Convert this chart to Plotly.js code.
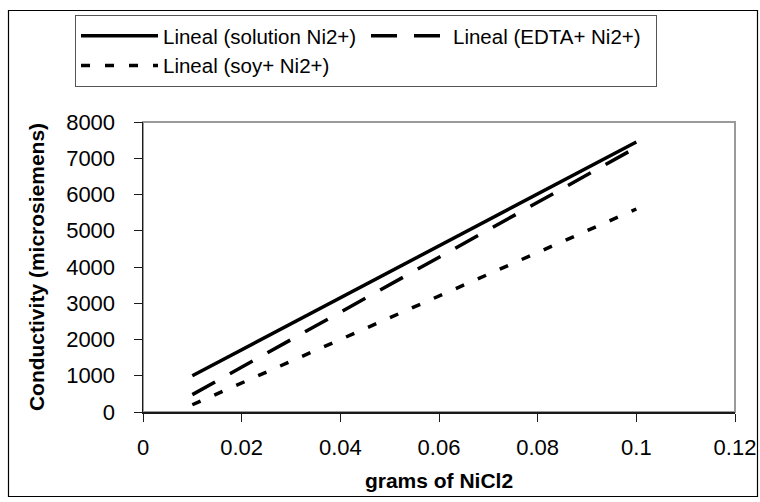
<!DOCTYPE html>
<html>
<head>
<meta charset="utf-8">
<script src="https://cdn.plot.ly/plotly-3.0.1.min.js"></script>
<style>
html, body { margin: 0; padding: 0; background: #fff; }
#chart { width: 760px; height: 502px; }
</style>
</head>
<body>
<div id="chart"></div>
<script>
// Data (linear trend lines)
const seriesNames = ['Lineal (solution Ni2+)', 'Lineal (EDTA+ Ni2+)', 'Lineal (soy+ Ni2+)'];
const xSolution = [0.01, 0.1];
const ySolution = [1000, 7450];
const xEdta = [0.01, 0.1];
const yEdta = [480, 7300];
const xSoy = [0.01, 0.1];
const ySoy = [200, 5600];
const xTickVals = [0, 0.02, 0.04, 0.06, 0.08, 0.1, 0.12];
const xTickText = ['0', '0.02', '0.04', '0.06', '0.08', '0.1', '0.12'];
const yTickVals = [0, 1000, 2000, 3000, 4000, 5000, 6000, 7000, 8000];
const yTickText = ['0', '1000', '2000', '3000', '4000', '5000', '6000', '7000', '8000'];

const FONT = 'Liberation Sans, Arial, Helvetica, sans-serif';

const traces = [
  { x: xSolution, y: ySolution, name: seriesNames[0], mode: 'lines',
    line: { color: '#000', width: 3.5, dash: 'solid' } },
  { x: xEdta, y: yEdta, name: seriesNames[1], mode: 'lines',
    line: { color: '#000', width: 3.5, dash: '26px,17px' } },
  { x: xSoy, y: ySoy, name: seriesNames[2], mode: 'lines',
    line: { color: '#000', width: 3.5, dash: '9px,15px' } }
];

const L = 143, R = 25, T = 122, B = 90;
const W = 760, H = 502;
const pw = W - L - R, ph = H - T - B;
const px = v => (v - L) / pw;          // pixel x -> paper
const py = v => (H - B - v) / ph;      // pixel y -> paper

const layout = {
  width: W, height: H,
  margin: { l: L, r: R, t: T, b: B, pad: 0 },
  paper_bgcolor: '#fff', plot_bgcolor: '#fff',
  font: { family: FONT, color: '#000', size: 22 },
  showlegend: true,
  legend: {
    orientation: 'h',
    x: px(657), y: py(15), xanchor: 'right', yanchor: 'top',
    bgcolor: '#fff', bordercolor: '#555', borderwidth: 1,
    font: { family: FONT, size: 20.5, color: '#000' },
    itemwidth: 77, entrywidth: 198, traceorder: 'normal'
  },
  xaxis: {
    range: [0, 0.12], tickmode: 'array', tickvals: xTickVals, ticktext: xTickText,
    showgrid: false, zeroline: false, showline: true, linecolor: '#1a1a1a', linewidth: 1.5,
    ticks: 'outside', ticklen: 8, tickwidth: 1, tickcolor: '#1a1a1a',
    tickfont: { family: FONT, size: 22, color: '#000' },
    ticklabelstandoff: 7,
    title: { text: '<b>grams of NiCl2</b>', font: { family: FONT, size: 21, color: '#000' }, standoff: 14 },
    automargin: false, fixedrange: true
  },
  yaxis: {
    range: [0, 8000], tickmode: 'array', tickvals: yTickVals, ticktext: yTickText,
    showgrid: false, zeroline: false, showline: true, linecolor: '#1a1a1a', linewidth: 1.5,
    ticks: 'outside', ticklen: 8, tickwidth: 1, tickcolor: '#1a1a1a',
    tickfont: { family: FONT, size: 22, color: '#000' },
    ticklabelstandoff: 14,
    title: { text: '<b>Conductivity (microsiemens)</b>', font: { family: FONT, size: 21, color: '#000' }, standoff: 16 },
    automargin: false, fixedrange: true
  },
  shapes: [
    { type: 'rect', xref: 'paper', yref: 'paper', x0: 0, x1: 1, y0: 0, y1: 1,
      line: { color: '#9a9a9a', width: 2 }, layer: 'below' },
    { type: 'rect', xref: 'paper', yref: 'paper', x0: px(8.5), x1: px(757.5), y0: py(496.5), y1: py(10.5),
      line: { color: '#000', width: 1.2 }, layer: 'below' }
  ]
};

Plotly.newPlot('chart', traces, layout, { staticPlot: true, displayModeBar: false });
</script>
</body>
</html>
